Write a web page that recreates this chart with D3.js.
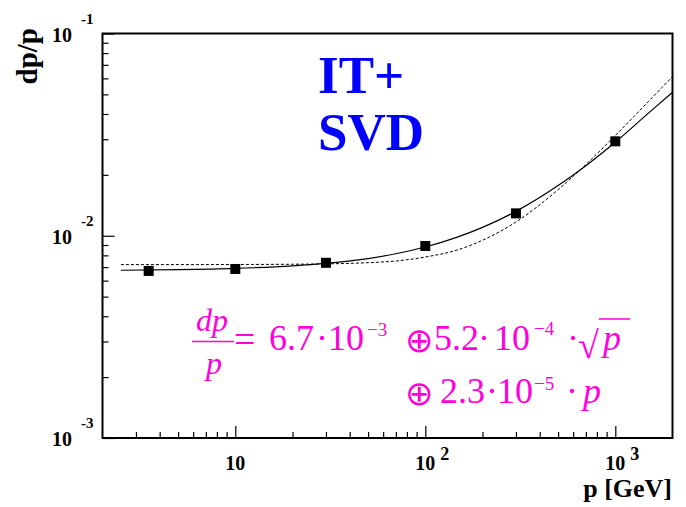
<!DOCTYPE html>
<html><head><meta charset="utf-8">
<script src="https://cdn.jsdelivr.net/npm/d3@7"></script>
<style>body{margin:0;background:#fff}svg{display:block}text{font-family:"Liberation Serif","Times New Roman",serif}</style>
</head><body><svg id="c" width="686" height="507"></svg>
<script>
// ---- data ----
const pointP = [3.5, 10, 30, 100, 300, 1000];
const pointDp = [6.7e-3, 6.85e-3, 7.35e-3, 8.9e-3, 1.29e-2, 2.93e-2];
const curveP = [2.5, 5, 10, 20, 30, 50, 70, 100, 150, 200, 300, 500, 700, 1000, 1500, 2000];
const solidDp = [6.75e-3, 6.8e-3, 6.9e-3, 7.1e-3, 7.3e-3, 7.7e-3, 8.15e-3, 8.8e-3, 9.9e-3, 1.1e-2, 1.32e-2, 1.77e-2, 2.22e-2, 2.9e-2, 4.05e-2, 5.12e-2];
const dashedDp = [7.2e-3, 7.2e-3, 7.21e-3, 7.23e-3, 7.26e-3, 7.36e-3, 7.5e-3, 7.85e-3, 8.55e-3, 9.5e-3, 1.17e-2, 1.69e-2, 2.25e-2, 3.13e-2, 4.63e-2, 6.12e-2];
const xTickVals = [10, 100, 1000];
const xTickExp = ["", "2", "3"];
const yTickVals = [1e-3, 1e-2, 1e-1];
const yTickExp = ["-3", "-2", "-1"];
const xDomain = [2, 2000];
const yDomain = [1e-3, 1e-1];

// ---- layout ----
const L = 102.5, R = 672.5, T = 33.5, B = 438;
const svg = d3.select("#c");
const x = d3.scaleLog().domain(xDomain).range([L, R]);
const y = d3.scaleLog().domain(yDomain).range([B, T]);

// minor ticks
const xMinor = [];
for (let d = 1; d <= 1000; d *= 10) for (let k = 1; k <= 9; k++) { const v = k * d; if (v > xDomain[0] && v < xDomain[1] && !xTickVals.includes(v)) xMinor.push(v); }
const yMinor = [];
for (let d = 1e-3; d < 0.1; d *= 10) for (let k = 2; k <= 9; k++) yMinor.push(k * d);

function axisStyle(g){ g.select(".domain").remove(); g.selectAll("line").attr("stroke","#000").attr("stroke-width",1.2); g.selectAll("text").remove(); }
svg.append("g").attr("transform",`translate(0,${B})`).call(d3.axisBottom(x).tickValues(xMinor).tickSizeInner(-6).tickSizeOuter(0)).call(axisStyle);
svg.append("g").attr("transform",`translate(0,${B})`).call(d3.axisBottom(x).tickValues(xTickVals).tickSizeInner(-12).tickSizeOuter(0)).call(axisStyle);
svg.append("g").attr("transform",`translate(${L},0)`).call(d3.axisLeft(y).tickValues(yMinor).tickSizeInner(-6).tickSizeOuter(0)).call(axisStyle);
svg.append("g").attr("transform",`translate(${L},0)`).call(d3.axisLeft(y).tickValues(yTickVals).tickSizeInner(-12).tickSizeOuter(0)).call(axisStyle);

// frame
svg.append("rect").attr("x",L).attr("y",T).attr("width",R-L).attr("height",B-T).attr("fill","none").attr("stroke","#000").attr("stroke-width",2);

// tick labels
xTickVals.forEach((v,i)=>{
  svg.append("text").attr("x",x(v)).attr("y",470).attr("text-anchor","middle").attr("font-weight","bold").attr("font-size",20).text("10");
  if (xTickExp[i]) svg.append("text").attr("x",x(v)+15).attr("y",460).attr("font-weight","bold").attr("font-size",18).text(xTickExp[i]);
});
yTickVals.forEach((v,i)=>{
  svg.append("text").attr("x",72).attr("y",y(v)+8).attr("text-anchor","end").attr("font-weight","bold").attr("font-size",20).text("10");
  svg.append("text").attr("x",81).attr("y",y(v)-10).attr("font-weight","bold").attr("font-size",15).text(yTickExp[i]);
});

// axis titles
svg.append("text").attr("x",672).attr("y",497).attr("text-anchor","end").attr("font-weight","bold").attr("font-size",26).text("p [GeV]");
svg.append("text").attr("transform","translate(37,28) rotate(-90)").attr("text-anchor","end").attr("font-weight","bold").attr("font-size",29).text("dp/p");

// curves
const line = d3.line().x(d=>x(d[0])).y(d=>y(d[1])).curve(d3.curveMonotoneX);
svg.append("path").attr("d",line(curveP.map((p,i)=>[p,dashedDp[i]]))).attr("fill","none").attr("stroke","#000").attr("stroke-width",1).attr("stroke-dasharray","3,2");
svg.append("path").attr("d",line(curveP.map((p,i)=>[p,solidDp[i]]))).attr("fill","none").attr("stroke","#000").attr("stroke-width",1.2);

// points
svg.selectAll("rect.pt").data(pointP.map((p,i)=>[p,pointDp[i]])).enter().append("rect").attr("class","pt")
  .attr("x",d=>x(d[0])-5).attr("y",d=>y(d[1])-5).attr("width",10).attr("height",10).attr("fill","#000");

// labels
svg.append("text").attr("x",318).attr("y",93).attr("fill","#0000ff").attr("font-weight","bold").attr("font-size",53).text("IT+");
svg.append("text").attr("x",318).attr("y",150).attr("fill","#0000ff").attr("font-weight","bold").attr("font-size",53).text("SVD");

// formula
const mag = "#ff00dd";
const F = svg.append("g").attr("fill",mag);
function t(xp, yp, s, size, opts={}) {
  const e = F.append("text").attr("x",xp).attr("y",yp).attr("font-size",size).text(s);
  if (opts.italic) e.attr("font-style","italic");
  if (opts.anchor) e.attr("text-anchor",opts.anchor);
  if (opts.family) e.attr("font-family",opts.family);
  return e;
}
t(212,331,"dp",32,{italic:true,anchor:"middle"});
F.append("line").attr("x1",192).attr("x2",234).attr("y1",341.5).attr("y2",341.5).attr("stroke",mag).attr("stroke-width",1.5);
t(214,374,"p",32,{italic:true,anchor:"middle"});
t(234,352,"=",38);
t(269,350,"6.7",36);
t(322,350,"·",36,{anchor:"middle"});
t(328,350,"10",36);
t(367,336,"−3",19);
t(419,352,"⊕",34,{anchor:"middle",family:"DejaVu Serif"});
t(434,350,"5.2",36);
t(484,350,"·",36,{anchor:"middle"});
t(494,350,"10",36);
t(534,335,"−4",19);
t(573,350,"·",36,{anchor:"middle"});
t(578,358,"√",38,{family:"DejaVu Serif"});
F.append("line").attr("x1",599).attr("x2",630).attr("y1",319).attr("y2",319).attr("stroke",mag).attr("stroke-width",1.5);
t(603,350,"p",36,{italic:true});
t(419,405,"⊕",34,{anchor:"middle",family:"DejaVu Serif"});
t(440,403,"2.3",36);
t(492,403,"·",36,{anchor:"middle"});
t(497,403,"10",36);
t(534,390,"−5",19);
t(572,403,"·",36,{anchor:"middle"});
t(583,403,"p",36,{italic:true});
</script></body></html>
